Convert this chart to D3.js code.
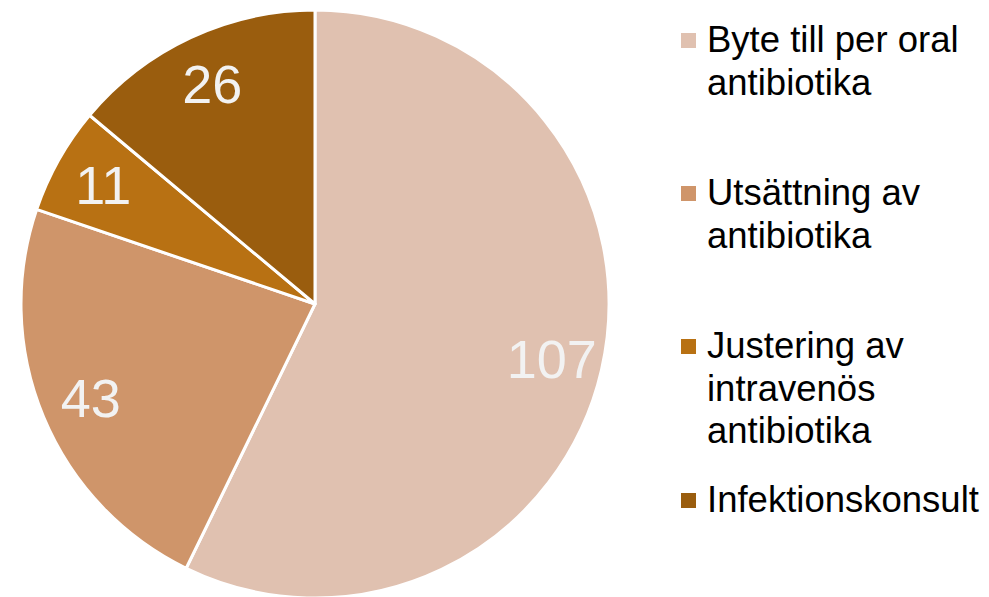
<!DOCTYPE html>
<html>
<head>
<meta charset="utf-8">
<script src="https://cdn.jsdelivr.net/npm/d3@7"></script>
<style>
  html, body { margin: 0; padding: 0; background: #fff; }
  svg { display: block; font-family: "Liberation Sans", Arial, sans-serif; }
</style>
</head>
<body>
<div id="chart"></div>
<script>
// data
const categories = ["Byte till per oral antibiotika", "Utsättning av antibiotika", "Justering av intravenös antibiotika", "Infektionskonsult"];
const values = [107, 43, 11, 26];
const colors = ["#e0c1b0", "#cf956a", "#b87113", "#9a5d0e"];
// legend lines as wrapped in the original
const legendLines = [
    ["Byte till per oral", "antibiotika"],
    ["Utsättning av", "antibiotika"],
    ["Justering av", "intravenös", "antibiotika"],
    ["Infektionskonsult"]
];

const width = 989;
const height = 597;
const cx = 315, cy = 304, radius = 294;
const labelRadius = 243;

const svg = d3.select("#chart").append("svg")
    .attr("width", width)
    .attr("height", height);

const pie = d3.pie().sort(null).value(d => d);
const arcs = pie(values);

const arc = d3.arc().innerRadius(0).outerRadius(radius);
const labelArc = d3.arc().innerRadius(labelRadius).outerRadius(labelRadius);

const g = svg.append("g").attr("transform", `translate(${cx},${cy})`);

g.selectAll(".slice")
    .data(arcs)
    .join("path")
    .attr("class", "slice")
    .attr("d", arc)
    .attr("fill", (d, i) => colors[i])
    .attr("stroke", "#fff")
    .style("stroke-width", 3)
    .style("stroke-linejoin", "round");

g.selectAll(".slice-label")
    .data(arcs)
    .join("text")
    .attr("class", "slice-label")
    .attr("transform", d => `translate(${labelArc.centroid(d)})`)
    .attr("dy", "0.36em")
    .style("text-anchor", "middle")
    .style("font-size", "54px")
    .style("fill", "#f2f2f2")
    .text(d => d.value);

// legend
const legendX = 681;
const textX = 707;
const baselines = [52, 205, 358, 512];
const lineH = 42.5;

const legend = svg.append("g").attr("class", "legend");
const items = legend.selectAll("g")
    .data(categories)
    .join("g");

items.append("rect")
    .attr("x", legendX)
    .attr("y", (d, i) => baselines[i] - 19)
    .attr("width", 15)
    .attr("height", 15)
    .attr("fill", (d, i) => colors[i]);

items.append("text")
    .attr("x", textX)
    .attr("y", (d, i) => baselines[i])
    .style("font-size", "36.5px")
    .style("fill", "#000")
    .selectAll("tspan")
    .data((d, i) => legendLines[i])
    .join("tspan")
    .attr("x", textX)
    .attr("dy", (d, j) => j === 0 ? 0 : lineH)
    .text(d => d);
</script>
</body>
</html>
